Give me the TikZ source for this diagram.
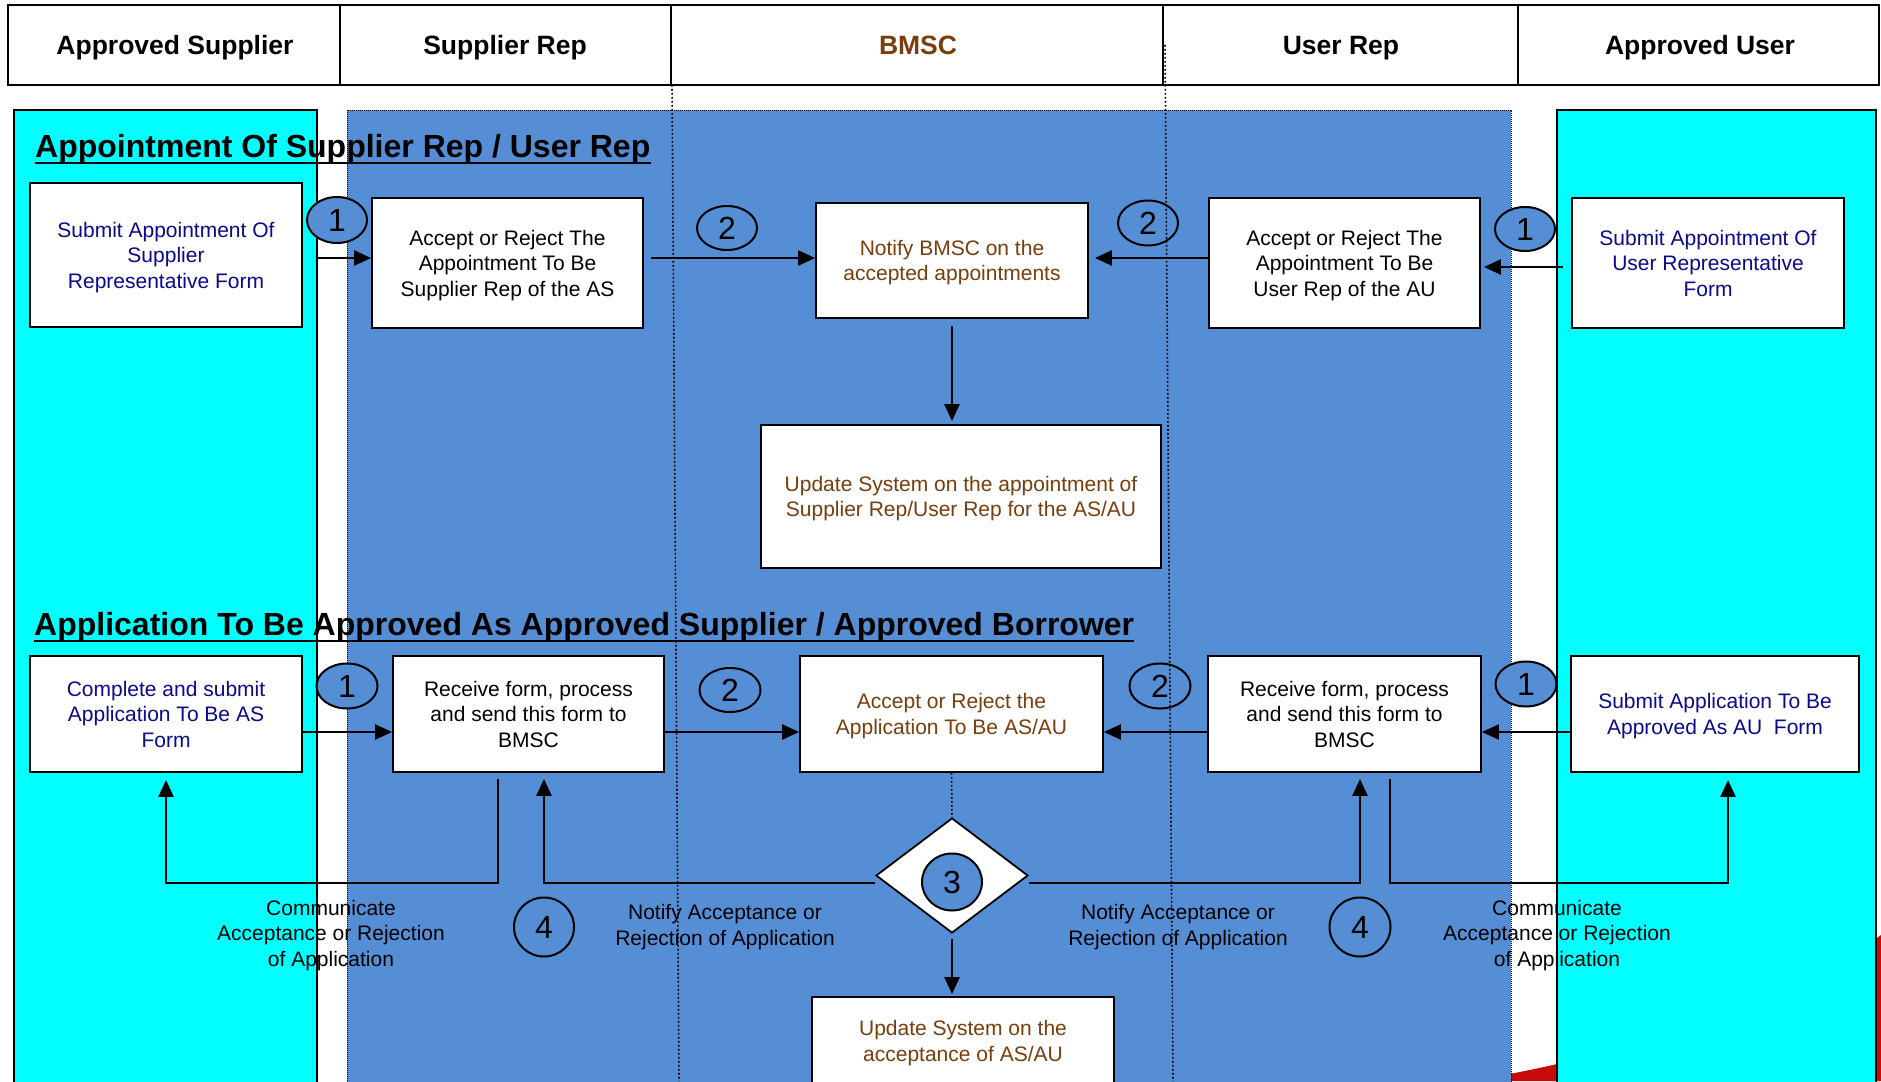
\documentclass[tikz,border=0pt]{standalone}
\usepackage{fontspec}
\setmainfont{Liberation Sans}
\usetikzlibrary{shapes.geometric,arrows.meta,calc}
\definecolor{bgblue}{RGB}{85,142,213}
\definecolor{lanecyan}{RGB}{0,255,255}
\definecolor{navytxt}{RGB}{10,10,140}
\definecolor{browntxt}{RGB}{120,62,12}
\definecolor{swooshred}{RGB}{200,10,10}
\begin{document}
\begin{tikzpicture}[x=1pt,y=-1pt,
 box/.style={draw,fill=white,line width=1.8pt,inner sep=0pt,align=center,text depth=0pt,
   execute at begin node={\rule{0pt}{18pt}},font=\fontsize{21}{25.5}\selectfont},
 num/.style={ellipse,draw,fill=bgblue,line width=2pt,inner sep=0pt,font=\fontsize{32}{32}\selectfont},
 lbl/.style={align=center,inner sep=0pt,text depth=0pt,font=\fontsize{21}{25.5}\selectfont},
 hdr/.style={inner sep=0pt,text depth=0pt,execute at begin node={\rule{0pt}{21pt}},font=\fontsize{26.5}{30}\selectfont\bfseries},
 ttl/.style={anchor=base west,inner sep=0pt,font=\fontsize{32}{36}\selectfont\bfseries},
 arr/.style={line width=2.5pt,-{Triangle[length=17pt,width=15pt]}},
 lanedot/.style={line width=1.6pt,dash pattern=on 1.6pt off 2.4pt},
]
\useasboundingbox (0,0) rectangle (1881,1081);
\clip (0,0) rectangle (1881,1081);
\fill[white] (0,0) rectangle (1881,1081);
% red swoosh behind
\fill[swooshred] (1470,1081) .. controls (1600,1060) and (1780,1010) .. (1881,935) -- (1881,1081) -- cycle;
% lane fills
\fill[lanecyan] (14,110) rectangle (317,1095);
\fill[lanecyan] (1557,110) rectangle (1876,1095);
\fill[bgblue] (347,110) rectangle (1511,1095);
% labels under borders
\node[lbl] (LcomL) at (331,933) {Communicate\\Acceptance or Rejection\\of Application};
\node[lbl] (LnotL) at (725,925) {Notify Acceptance or\\Rejection of Application};
\node[lbl] (LnotR) at (1178,925) {Notify Acceptance or\\Rejection of Application};
\node[lbl] (LcomR) at (1557,933) {Communicate\\Acceptance or Rejection\\of Application};
% lane borders
\draw[line width=2.2pt] (14,1095) -- (14,110) -- (317,110) -- (317,1095);
\draw[line width=2.2pt] (1557,1095) -- (1557,110) -- (1876,110) -- (1876,1095);
\draw[line width=1pt,dash pattern=on 1pt off 1pt] (347,1095) -- (347,110) -- (1511,110) -- (1511,1095);
% header
\draw[line width=2.5pt,fill=white] (8,5) rectangle (1879,85);
\foreach \xx in {340,671,1163,1518} \draw[line width=2pt] (\xx,5) -- (\xx,85);
\node[hdr] (H1) at (175,44) {Approved Supplier};
\node[hdr] (H2) at (505,44) {Supplier Rep};
\node[hdr,text=browntxt] (H3) at (918,44) {BMSC};
\node[hdr] (H4) at (1341,44) {User Rep};
\node[hdr] (H5) at (1700,44) {Approved User};
% titles
\node[ttl] (T1) at (35,157) {Appointment Of Supplier Rep / User Rep};
\draw[line width=2.5pt] ($(T1.base west)+(0,6)$) -- ($(T1.base east)+(0,6)$);
\node[ttl] (T2) at (34,635) {Application To Be Approved As Approved Supplier / Approved Borrower};
\draw[line width=2.5pt] ($(T2.base west)+(0,6)$) -- ($(T2.base east)+(0,6)$);
% row 1 boxes
\node[box,text=navytxt,minimum width=272pt,minimum height=144pt] (A1) at (166,255) {Submit Appointment Of\\Supplier\\Representative Form};
\node[box,minimum width=271pt,minimum height=130pt] (S1) at (507.5,263) {Accept or Reject The\\Appointment To Be\\Supplier Rep of the AS};
\node[box,text=browntxt,minimum width=272pt,minimum height=115pt] (B1) at (952,260.5) {Notify BMSC on the\\accepted appointments};
\node[box,text=browntxt,minimum width=400pt,minimum height=143pt] (B2) at (961,496.5) {Update System on the appointment of\\Supplier Rep/User Rep for the AS/AU};
\node[box,minimum width=271pt,minimum height=130pt] (U1) at (1344.5,263) {Accept or Reject The\\Appointment To Be\\User Rep of the AU};
\node[box,text=navytxt,minimum width=272pt,minimum height=130pt] (AU1) at (1708,263) {Submit Appointment Of\\User Representative\\Form};
% row 2 boxes
\node[box,text=navytxt,minimum width=272pt,minimum height=116pt] (A2) at (166,714) {Complete and submit\\Application To Be AS\\Form};
\node[box,minimum width=271pt,minimum height=116pt] (S2) at (528.5,714) {Receive form, process\\and send this form to\\BMSC};
\node[box,text=browntxt,minimum width=303pt,minimum height=116pt] (B3) at (951.5,714) {Accept or Reject the\\Application To Be AS/AU};
\node[box,minimum width=273pt,minimum height=116pt] (U2) at (1344.5,714) {Receive form, process\\and send this form to\\BMSC};
\node[box,text=navytxt,minimum width=288pt,minimum height=116pt] (AU2) at (1715,714) {Submit Application To Be\\Approved As AU\ \ Form};
\node[box,text=browntxt,minimum width=302pt,minimum height=88pt] (B4) at (963,1041) {Update System on the\\acceptance of AS/AU};
\node[diamond,draw,fill=white,line width=1.8pt,inner sep=0pt,minimum width=152pt,minimum height=115pt] (D) at (952,875.5) {};
% levels
\coordinate (yA) at (0,258);
\coordinate (yB) at (0,267);
\coordinate (yC) at (0,732);
\coordinate (fL1) at (544,883);
\coordinate (fL2) at (498,883);
\coordinate (fL3) at (166,883);
\coordinate (fR1) at (1360,883);
\coordinate (fR2) at (1390,883);
\coordinate (fR3) at (1728,883);
% row 1 arrows
\draw[arr] ($(A1.east |- yA)+(15,0)$) -- (S1.west |- yA);
\draw[arr] ($(S1.east |- yA)+(7,0)$) -- (B1.west |- yA);
\draw[arr] (U1.west |- yA) -- ($(B1.east |- yA)+(6,0)$);
\draw[arr] ($(AU1.west |- yB)+(-8,0)$) -- ($(U1.east |- yB)+(3,0)$);
\draw[arr] ($(B1.south)+(0,7)$) -- ($(B1.south |- B2.north)+(0,-3)$);
% row 2 arrows
\draw[arr] (A2.east |- yC) -- (S2.west |- yC);
\draw[arr] (S2.east |- yC) -- (B3.west |- yC);
\draw[arr] (U2.west |- yC) -- (B3.east |- yC);
\draw[arr] (AU2.west |- yC) -- (U2.east |- yC);
\draw[line width=1.6pt,dash pattern=on 1.6pt off 2.4pt] (B3.south) -- (D.north);
\draw[arr] ($(D.south)+(0,5)$) -- ($(D.south |- B4.north)+(0,-2)$);
% feedback lines
\draw[arr,shorten >=6pt] (D.west |- fL1) -- (fL1) -- (S2.south -| fL1);
\draw[arr,shorten >=7pt] ($(S2.south -| fL2)+(0,6)$) -- (fL2) -- (fL3) -- (A2.south -| fL3);
\draw[arr,shorten >=6pt] (D.east |- fR1) -- (fR1) -- (U2.south -| fR1);
\draw[arr,shorten >=7pt] ($(U2.south -| fR2)+(0,6)$) -- (fR2) -- (fR3) -- (AU2.south -| fR3);
% numbered circles
\node[num,minimum width=60pt,minimum height=46pt] (c1a) at (337,220) {1};
\node[num,minimum width=60pt,minimum height=44pt] (c2a) at (727,228) {2};
\node[num,minimum width=60pt,minimum height=45pt] (c2b) at (1148,223) {2};
\node[num,minimum width=60pt,minimum height=44pt] (c1b) at (1525,229) {1};
\node[num,minimum width=61pt,minimum height=45pt] (c1c) at (347,686) {1};
\node[num,minimum width=61pt,minimum height=44pt] (c2c) at (730,690) {2};
\node[num,minimum width=61pt,minimum height=45pt] (c2d) at (1160,686) {2};
\node[num,minimum width=61pt,minimum height=45pt] (c1d) at (1526,684) {1};
\node[num,minimum width=60pt,minimum height=57pt] (c3) at (952,882) {3};
\node[num,minimum width=60pt,minimum height=59pt] (c4a) at (544,927) {4};
\node[num,minimum width=61pt,minimum height=59pt] (c4b) at (1360,927) {4};
% lane dotted lines
\draw[lanedot] (672,85) -- (679,1081);
\draw[lanedot] (1165,45) -- (1173,1081);
\end{tikzpicture}
\end{document}
